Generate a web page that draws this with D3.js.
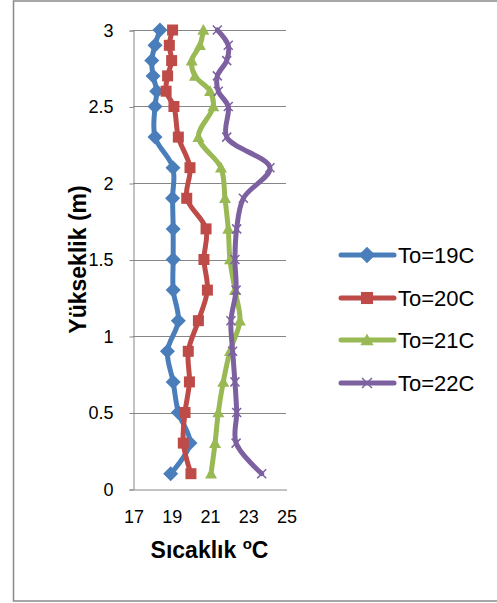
<!DOCTYPE html>
<html><head><meta charset="utf-8">
<script src="https://cdn.jsdelivr.net/npm/d3@7/dist/d3.min.js"></script>
<style>body{margin:0;background:#fff;} text{font-family:"Liberation Sans",Arial,sans-serif;}</style>
</head><body><svg id="c" width="497" height="603"></svg>
<script>
const heights = [0.1,0.3,0.5,0.7,0.9,1.1,1.3,1.5,1.7,1.9,2.1,2.3,2.5,2.6,2.7,2.8,2.9,3.0];
const to19 = [18.97,19.98,19.37,19.1,18.8,19.37,19.1,19.1,19.1,19.07,19.09,18.15,18.15,18.24,18.05,17.98,18.15,18.41];
const to20 = [20.03,19.63,19.72,19.95,19.89,20.42,20.89,20.71,20.82,19.81,19.98,19.37,19.14,18.73,18.81,19.02,18.9,19.07];
const to21 = [21.08,21.29,21.46,21.72,22.07,22.59,22.33,22.07,21.98,21.81,21.6,20.42,21.2,21.03,20.24,20.07,20.5,20.68];
const to22 = [23.73,22.39,22.42,22.33,22.21,22.12,22.39,22.33,22.42,22.77,24.16,21.9,21.98,21.46,21.41,21.9,21.98,21.41];
const seriesNames = ["To=19C","To=20C","To=21C","To=22C"];
const xTicks = [17,19,21,23,25];
const yTicks = [0,0.5,1,1.5,2,2.5,3];

const colors = ["#4A7EBB","#BE4B48","#98B954","#7D60A0"];
const markers = ["diamond","square","triangle","x"];
const allSeries = [to19,to20,to21,to22];

const svg = d3.select("#c");
svg.append("rect").attr("x",13.5).attr("y",1).attr("width",500).attr("height",600)
  .attr("fill","#fff").attr("stroke","#8a8a8a").attr("stroke-width",1.5);

const x = d3.scaleLinear().domain([17,25]).range([133,286]);
const y = d3.scaleLinear().domain([0,3]).range([489,30]);

// gridlines
svg.append("g").selectAll("line").data(yTicks.filter(d=>d>0)).join("line")
  .attr("x1",x(17)).attr("x2",x(25)).attr("y1",d=>Math.round(y(d))+0.5).attr("y2",d=>Math.round(y(d))+0.5)
  .attr("stroke","#868686").attr("stroke-width",1);

// y axis
const yAxis = svg.append("g").attr("transform",`translate(${x(17)+0.5},0.5)`)
  .call(d3.axisLeft(y).tickValues(yTicks).tickSize(4).tickPadding(16).tickFormat(d3.format("")));
yAxis.select(".domain").attr("stroke","#868686");
yAxis.selectAll(".tick line").attr("stroke","#868686");
yAxis.selectAll("text").attr("font-size",18).attr("fill","#000").attr("font-family","Liberation Sans, Arial, sans-serif");

// x axis
const xAxis = svg.append("g").attr("transform",`translate(0.5,${Math.round(y(0))+0.5})`)
  .call(d3.axisBottom(x).tickValues(xTicks).tickSize(0).tickPadding(21).tickFormat(d3.format("")));
xAxis.select(".domain").attr("stroke","#868686");
xAxis.selectAll("text").attr("font-size",18).attr("fill","#000").attr("font-family","Liberation Sans, Arial, sans-serif");

// titles
svg.append("text").attr("transform",`translate(86,${(y(0)+y(3))/2}) rotate(-90)`)
  .attr("text-anchor","middle").attr("font-size",23).attr("font-weight","bold").text("Yükseklik (m)");
const xt = svg.append("text").attr("x",(x(17)+x(25))/2).attr("y",558)
  .attr("text-anchor","middle").attr("font-size",23).attr("font-weight","bold");
xt.append("tspan").text("Sıcaklık ");
xt.append("tspan").attr("font-size",15).attr("dy",-9).text("o");
xt.append("tspan").attr("dy",9).text("C");

function drawMarker(g, type, cx, cy, color, big){
  const s = big ? 1.1 : 1;
  if(type==="diamond"){
    const r=7.5*s;
    g.append("path").attr("d",`M${cx},${cy-r}L${cx+r},${cy}L${cx},${cy+r}L${cx-r},${cy}Z`).attr("fill",color);
  } else if(type==="square"){
    const r=5.5*s;
    g.append("rect").attr("x",cx-r).attr("y",cy-r).attr("width",2*r).attr("height",2*r).attr("fill",color);
  } else if(type==="triangle"){
    const r=6*s;
    g.append("path").attr("d",`M${cx},${cy-r}L${cx+r},${cy+r*0.8}L${cx-r},${cy+r*0.8}Z`).attr("fill",color);
  } else {
    const r=4.5*s;
    g.append("path").attr("d",`M${cx-r},${cy-r}L${cx+r},${cy+r}M${cx-r},${cy+r}L${cx+r},${cy-r}`)
      .attr("stroke",color).attr("stroke-width",1.5).attr("fill","none");
  }
}

const line = d3.line().x(d=>x(d[0])).y(d=>y(d[1])).curve(d3.curveCatmullRom.alpha(0.5));
allSeries.forEach((vals,i)=>{
  const pts = vals.map((v,j)=>[v,heights[j]]);
  const g = svg.append("g");
  g.append("path").attr("d",line(pts)).attr("fill","none").attr("stroke",colors[i])
    .attr("stroke-width",5).attr("stroke-linejoin","round").attr("stroke-linecap","round");
  pts.forEach(p=>drawMarker(g,markers[i],x(p[0]),y(p[1]),colors[i],false));
});

// legend
const legendY = [255,298,340,383];
seriesNames.forEach((n,i)=>{
  const g = svg.append("g");
  const ly = legendY[i];
  g.append("line").attr("x1",341).attr("x2",394).attr("y1",ly).attr("y2",ly)
    .attr("stroke",colors[i]).attr("stroke-width",5).attr("stroke-linecap","round");
  drawMarker(g,markers[i],367,ly,colors[i],true);
  g.append("text").attr("x",398).attr("y",ly+8).attr("font-size",22).attr("fill","#000").text(n);
});
</script></body></html>
